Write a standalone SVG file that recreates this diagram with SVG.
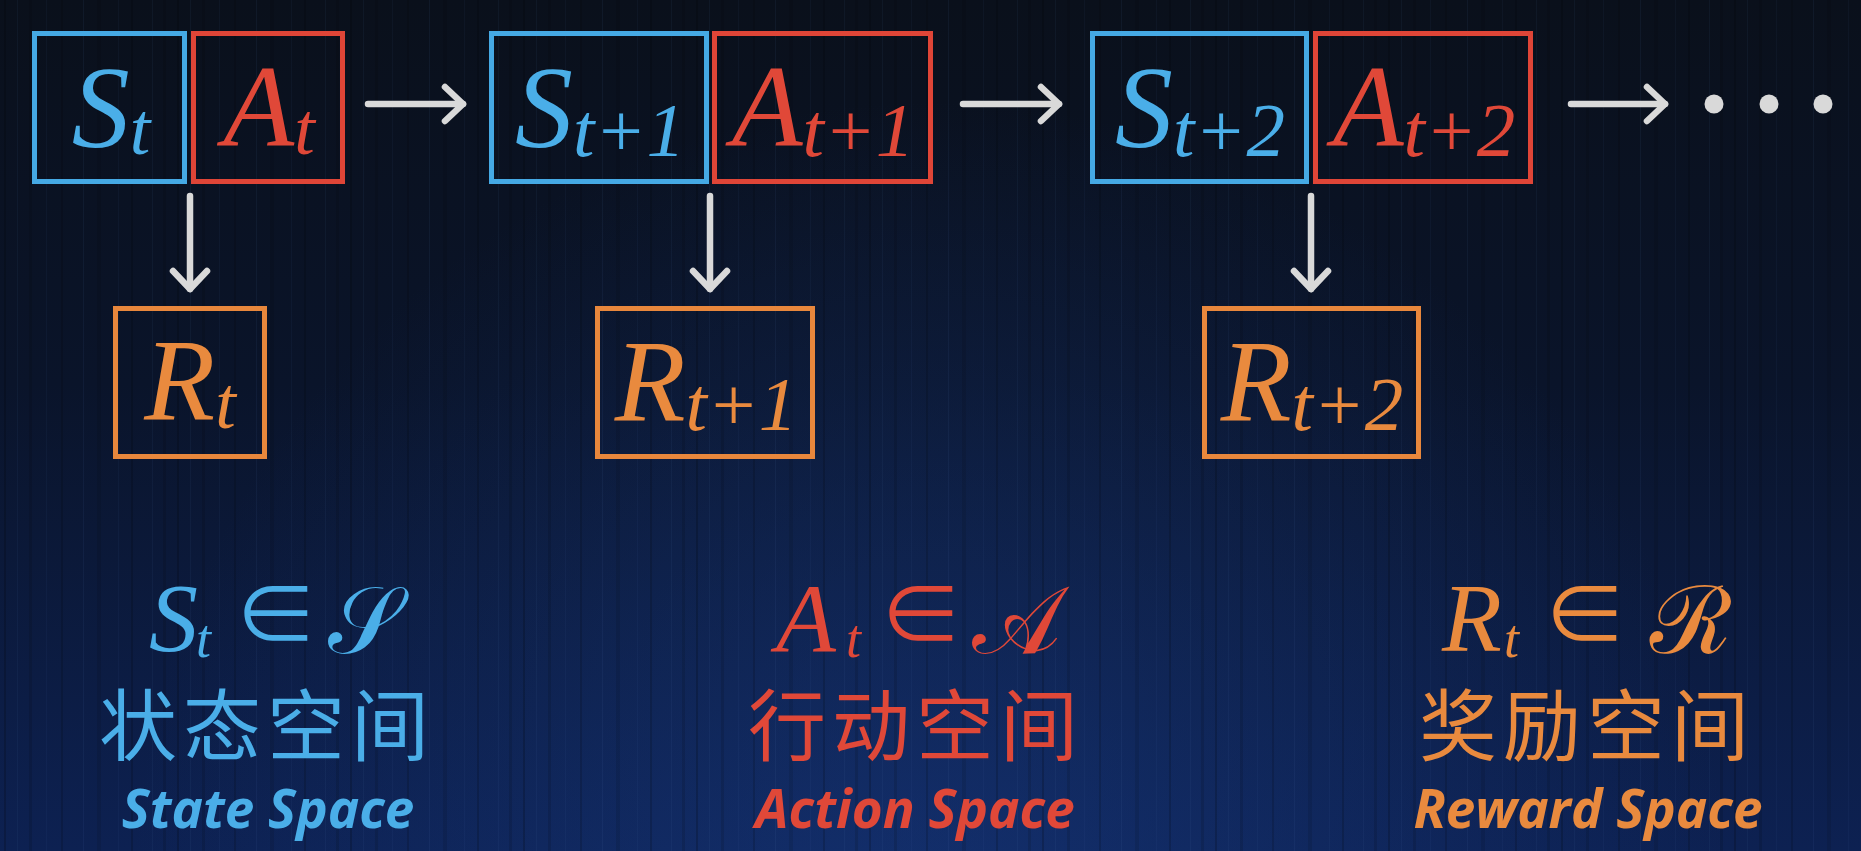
<svg xmlns="http://www.w3.org/2000/svg" width="1861" height="851" viewBox="0 0 1861 851">
<style>
.box{fill:none;stroke-width:5}
.bS{stroke:#45a9e4}.bA{stroke:#df4537}.bR{stroke:#e8873c}
.cS{fill:#4aaee8}.cA{fill:#e04838}.cR{fill:#e98a3e}
.math{font-family:"Liberation Serif","DejaVu Serif",serif;font-style:italic}
.sym{font-family:"Noto Sans CJK SC","DejaVu Sans",sans-serif;font-style:normal;font-weight:400}
.scr{font-family:"DejaVu Serif","Liberation Serif","Noto Sans",serif;font-style:normal}
.cjk{font-family:"Noto Sans CJK SC","Noto Sans",sans-serif;font-size:78px;letter-spacing:6px}
.en{font-family:"Open Sans",Lato,sans-serif;font-weight:700;font-style:italic;font-size:53px}
.conn{stroke:#d9d9d9;stroke-width:6.5;stroke-linecap:round;fill:none}
</style>
<defs>
<linearGradient id="bg" x1="0" y1="0" x2="0" y2="1">
<stop offset="0" stop-color="#0a101b"/>
<stop offset="0.45" stop-color="#0a142a"/>
<stop offset="1" stop-color="#0d2152"/>
</linearGradient>
<radialGradient id="glow" cx="930" cy="900" r="800" gradientUnits="userSpaceOnUse">
<stop offset="0" stop-color="#1a3f8a" stop-opacity="0.45"/>
<stop offset="1" stop-color="#1a3f8a" stop-opacity="0"/>
</radialGradient>
<pattern id="streaks" width="173" height="851" patternUnits="userSpaceOnUse">
<rect x="4" y="0" width="2" height="851" fill="#000" opacity="0.18"/>
<rect x="17" y="0" width="1" height="851" fill="#5a7ab8" opacity="0.07"/>
<rect x="29" y="0" width="3" height="851" fill="#000" opacity="0.12"/>
<rect x="46" y="0" width="1" height="851" fill="#5a7ab8" opacity="0.06"/>
<rect x="61" y="0" width="2" height="851" fill="#000" opacity="0.15"/>
<rect x="83" y="0" width="1" height="851" fill="#5a7ab8" opacity="0.08"/>
<rect x="97" y="0" width="4" height="851" fill="#000" opacity="0.1"/>
<rect x="118" y="0" width="1" height="851" fill="#5a7ab8" opacity="0.06"/>
<rect x="131" y="0" width="2" height="851" fill="#000" opacity="0.16"/>
<rect x="152" y="0" width="1" height="851" fill="#5a7ab8" opacity="0.07"/>
<rect x="163" y="0" width="3" height="851" fill="#000" opacity="0.12"/>
</pattern>
<marker id="ah" markerUnits="userSpaceOnUse" markerWidth="50" markerHeight="50" viewBox="-25 -25 50 50" refX="0" refY="0" orient="auto" overflow="visible">
<path d="M-18,-17 L0,0 L-18,17" fill="none" stroke="#d9d9d9" stroke-width="6.5" stroke-linecap="round" stroke-linejoin="round"/>
</marker>
</defs>
<rect width="1861" height="851" fill="url(#bg)"/>
<rect width="1861" height="851" fill="url(#glow)"/>
<rect width="1861" height="851" fill="url(#streaks)"/>

<g id="connectors">
<line class="conn" x1="368" y1="104" x2="463" y2="104" marker-end="url(#ah)"/>
<line class="conn" x1="963" y1="104" x2="1059" y2="104" marker-end="url(#ah)"/>
<line class="conn" x1="1571" y1="104" x2="1665" y2="104" marker-end="url(#ah)"/>
<line class="conn" x1="190" y1="196" x2="190" y2="289" marker-end="url(#ah)"/>
<line class="conn" x1="710" y1="196" x2="710" y2="289" marker-end="url(#ah)"/>
<line class="conn" x1="1311" y1="196" x2="1311" y2="289" marker-end="url(#ah)"/>
</g>

<g id="ellipsis" fill="#d9d9d9">
<circle cx="1714" cy="104" r="9.5"/>
<circle cx="1769" cy="104" r="9.5"/>
<circle cx="1823" cy="104" r="9.5"/>
</g>

<g id="S_t">
<rect class="box bS" x="34.5" y="33.5" width="150" height="148"/>
<text class="math cS" x="111" y="147" text-anchor="middle" font-size="116">S<tspan font-size="74" dy="7">t</tspan></text>
</g>
<g id="A_t">
<rect class="box bA" x="193.5" y="33.5" width="149" height="148"/>
<text class="math cA" x="269" y="146" text-anchor="middle" font-size="116">A<tspan font-size="74" dy="8">t</tspan></text>
</g>
<g id="S_t1">
<rect class="box bS" x="491.5" y="33.5" width="215" height="148"/>
<text class="math cS" x="600" y="147" text-anchor="middle" font-size="116">S<tspan font-size="77" dy="9">t+1</tspan></text>
</g>
<g id="A_t1">
<rect class="box bA" x="714.5" y="33.5" width="216" height="148"/>
<text class="math cA" x="823" y="146" text-anchor="middle" font-size="116">A<tspan font-size="77" dy="10">t+1</tspan></text>
</g>
<g id="S_t2">
<rect class="box bS" x="1092.5" y="33.5" width="214" height="148"/>
<text class="math cS" x="1200" y="147" text-anchor="middle" font-size="116">S<tspan font-size="77" dy="9">t+2</tspan></text>
</g>
<g id="A_t2">
<rect class="box bA" x="1315.5" y="33.5" width="215" height="148"/>
<text class="math cA" x="1424" y="146" text-anchor="middle" font-size="116">A<tspan font-size="77" dy="10">t+2</tspan></text>
</g>
<g id="R_t">
<rect class="box bR" x="115.5" y="308.5" width="149" height="148"/>
<text class="math cR" x="190" y="420" text-anchor="middle" font-size="116">R<tspan font-size="74" dy="8">t</tspan></text>
</g>
<g id="R_t1">
<rect class="box bR" x="597.5" y="308.5" width="215" height="148"/>
<text class="math cR" x="706" y="421" text-anchor="middle" font-size="116">R<tspan font-size="77" dy="9">t+1</tspan></text>
</g>
<g id="R_t2">
<rect class="box bR" x="1204.5" y="308.5" width="214" height="148"/>
<text class="math cR" x="1312" y="421" text-anchor="middle" font-size="116">R<tspan font-size="77" dy="9">t+2</tspan></text>
</g>

<g id="state_space">
<text class="math cS" x="149" y="651" font-size="98">S<tspan x="196" y="657" font-size="54">t</tspan></text>
<text class="sym cS" x="276" y="645" font-size="84" text-anchor="middle">∈</text>
<text class="scr cS" x="364" y="653" font-size="94" text-anchor="middle">𝒮</text>
<text class="cjk cS" x="267" y="755" text-anchor="middle">状态空间</text>
<text class="en cS" x="268" y="828" text-anchor="middle">State Space</text>
</g>
<g id="action_space">
<text class="math cA" x="776" y="651" font-size="98">A<tspan x="846" y="657" font-size="54">t</tspan></text>
<text class="sym cA" x="921" y="645" font-size="84" text-anchor="middle">∈</text>
<text class="scr cA" x="1016" y="653" font-size="94" text-anchor="middle">𝒜</text>
<text class="cjk cA" x="916" y="755" text-anchor="middle">行动空间</text>
<text class="en cA" x="915" y="828" text-anchor="middle">Action Space</text>
</g>
<g id="reward_space">
<text class="math cR" x="1442" y="651" font-size="98">R<tspan x="1504" y="657" font-size="54">t</tspan></text>
<text class="sym cR" x="1585" y="645" font-size="84" text-anchor="middle">∈</text>
<text class="scr cR" x="1691" y="653" font-size="94" text-anchor="middle">ℛ</text>
<text class="cjk cR" x="1587" y="755" text-anchor="middle">奖励空间</text>
<text class="en cR" x="1588" y="828" text-anchor="middle">Reward Space</text>
</g>
</svg>
